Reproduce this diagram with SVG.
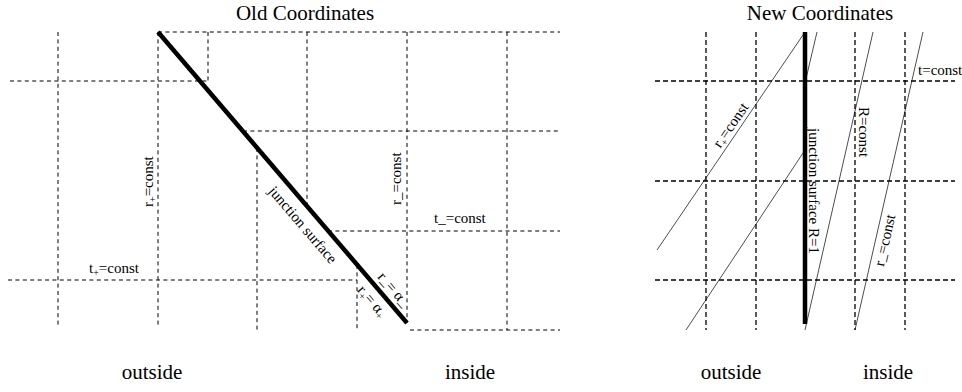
<svg xmlns="http://www.w3.org/2000/svg" width="962" height="392" viewBox="0 0 962 392">
<style>
text{font-family:"Liberation Serif","Times New Roman",serif;fill:#000}
.title{font-size:21px;text-anchor:middle}
.lbl{font-size:15px}
.mid{text-anchor:middle}
.sub{font-size:10px}
.grid{stroke:#000;stroke-width:1;stroke-dasharray:4 3.4;fill:none}
.grid2{stroke:#000;stroke-width:1.3;stroke-dasharray:5 3;fill:none}
.thick{stroke:#000;stroke-width:4.5;fill:none}
.thin{stroke:#000;stroke-width:0.7;fill:none}
</style>
<rect width="962" height="392" fill="#fff"/>

<g id="old-coordinates">
  <text class="title" x="305" y="19.5">Old Coordinates</text>
  <g id="old-grid">
    <line class="grid" x1="58" y1="32" x2="58" y2="325"/>
    <line class="grid" x1="158" y1="32" x2="158" y2="325"/>
    <line class="grid" x1="208" y1="32" x2="208" y2="81"/>
    <line class="grid" x1="257" y1="148" x2="257" y2="333"/>
    <line class="grid" x1="307" y1="32" x2="307" y2="206"/>
    <line class="grid" x1="357" y1="265" x2="357" y2="330"/>
    <line class="grid" x1="407" y1="32" x2="407" y2="323"/>
    <line class="grid" x1="507" y1="32" x2="507" y2="330"/>
    <line class="grid" x1="158" y1="32" x2="560" y2="32"/>
    <line class="grid" x1="10" y1="81" x2="208" y2="81"/>
    <line class="grid" x1="243" y1="131" x2="560" y2="131"/>
    <line class="grid" x1="328" y1="231" x2="560" y2="231"/>
    <line class="grid" x1="8" y1="280" x2="357" y2="280"/>
    <line class="grid" x1="410" y1="330" x2="560" y2="330"/>
  </g>
  <g id="old-junction">
    <line class="thick" x1="158" y1="32" x2="407" y2="323"/>
  </g>
  <g id="old-labels">
    <text class="lbl" transform="translate(152.5,207) rotate(-90)">r<tspan class="sub" dy="3">+</tspan><tspan dy="-3">=const</tspan></text>
    <text class="lbl" transform="translate(401,205) rotate(-90)">r_=const</text>
    <text class="lbl" x="434" y="223">t_=const</text>
    <text class="lbl" x="89" y="273">t<tspan class="sub" dy="3">+</tspan><tspan dy="-3">=const</tspan></text>
    <text class="lbl mid" transform="translate(299,228) rotate(49.4)">junction surface</text>
    <text class="lbl mid" transform="translate(390,292.4) rotate(49.4)">r_= α_</text>
    <text class="lbl mid" transform="translate(368.6,304.4) rotate(49.4)">r<tspan class="sub" dy="3">+</tspan><tspan dy="-3">= α</tspan><tspan class="sub" dy="3">+</tspan></text>
  </g>
  <text class="title" x="152" y="379">outside</text>
  <text class="title" x="470" y="379">inside</text>
</g>

<g id="new-coordinates">
  <text class="title" x="820" y="19.5">New Coordinates</text>
  <g id="new-grid">
    <line class="grid2" x1="706" y1="32" x2="706" y2="330"/>
    <line class="grid2" x1="756" y1="32" x2="756" y2="330"/>
    <line class="grid2" x1="855" y1="32" x2="855" y2="330"/>
    <line class="grid2" x1="905" y1="32" x2="905" y2="330"/>
    <line class="grid2" x1="655" y1="81" x2="955" y2="81"/>
    <line class="grid2" x1="655" y1="181" x2="955" y2="181"/>
    <line class="grid2" x1="655" y1="280" x2="955" y2="280"/>
  </g>
  <g id="new-diagonals">
    <line class="thin" x1="805" y1="32" x2="657" y2="250"/>
    <line class="thin" x1="805" y1="150" x2="686" y2="330"/>
    <line class="thin" x1="817" y1="32" x2="805" y2="83"/>
    <line class="thin" x1="873" y1="32" x2="805" y2="330"/>
    <line class="thin" x1="923" y1="32" x2="855" y2="330"/>
  </g>
  <g id="new-junction">
    <line class="thick" x1="805" y1="32" x2="805" y2="324"/>
  </g>
  <g id="new-labels">
    <text class="lbl" x="918" y="75">t=const</text>
    <text class="lbl" transform="translate(859,107) rotate(90)">R=const</text>
    <text class="lbl" transform="translate(809,128) rotate(90)">junction surface R=1</text>
    <text class="lbl mid" transform="translate(734.7,127.9) rotate(-55.5)">r<tspan class="sub" dy="3">+</tspan><tspan dy="-3">=const</tspan></text>
    <text class="lbl mid" transform="translate(889.6,241.3) rotate(-77.1)">r_=const</text>
  </g>
  <text class="title" x="731" y="379">outside</text>
  <text class="title" x="888" y="379">inside</text>
</g>
</svg>
